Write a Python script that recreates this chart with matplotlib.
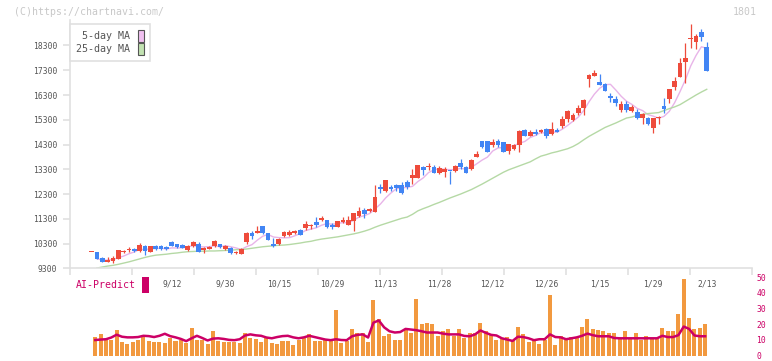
import numpy as np
import pandas as pd
import matplotlib
matplotlib.use("Agg")
import matplotlib.pyplot as plt
from matplotlib.patches import Patch, Rectangle

# daily candles, 8/22 .. 2/13 (open, high, low, close)
opens = [9940, 9950, 9730, 9570, 9600, 9690, 9950, 10020, 10070, 9980,
         10210, 9970, 10210, 10200, 10160, 10360, 10270, 10240, 10030, 10190,
         10280, 10030, 10090, 10190, 10270, 10070, 10130, 9910, 9870, 10360,
         10740, 10740, 11010, 10710, 10270, 10280, 10600, 10660, 10720, 10850,
         10940, 10990, 11180, 11250, 11250, 11060, 10970, 11160, 11060, 11220,
         11410, 11650, 11610, 11570, 12580, 12420, 12580, 12660, 12660, 12800,
         12960, 12960, 13400, 13380, 13400, 13160, 13200, 13240, 13220, 13570,
         13400, 13300, 13810, 14440, 14440, 14280, 14440, 14400, 14050, 14110,
         14280, 14890, 14660, 14790, 14820, 14940, 14730, 14890, 15050, 15340,
         15300, 15570, 15770, 16960, 17080, 16820, 16740, 16260, 16140, 15710,
         15940, 15670, 15610, 15370, 15370, 14970, 15380, 15860, 16130, 16640,
         17040, 17640, 18550, 18450, 18860, 18250]
highs = [9960, 9950, 9740, 9740, 9800, 10050, 10050, 10150, 10100, 10320,
         10260, 10200, 10260, 10230, 10200, 10400, 10300, 10270, 10230, 10410,
         10350, 10170, 10210, 10460, 10290, 10230, 10160, 10000, 10100, 10750,
         10790, 11010, 11010, 10720, 10540, 10520, 10790, 10840, 10860, 10900,
         11200, 11100, 11370, 11410, 11270, 11140, 11220, 11380, 11410, 11540,
         11760, 11730, 11720, 12660, 12710, 12880, 12660, 12700, 12780, 12870,
         13300, 13480, 13420, 13560, 13460, 13430, 13410, 13250, 13470, 13710,
         13440, 13700, 14050, 14450, 14460, 14510, 14540, 14420, 14330, 14310,
         14880, 14920, 14890, 14930, 14930, 14970, 15190, 14970, 15440, 15700,
         15560, 15900, 16130, 17130, 17300, 17140, 16770, 16390, 16260, 16050,
         16070, 15910, 15730, 15590, 15420, 15380, 15440, 16180, 16550, 17020,
         17780, 18420, 19170, 18750, 18970, 18450]
lows = [9940, 9690, 9560, 9540, 9530, 9680, 9930, 9950, 9960, 9960,
        9820, 9940, 10040, 10020, 10040, 10190, 10140, 10110, 10000, 10170,
        9950, 9920, 10060, 10170, 10130, 10040, 9890, 9880, 9860, 10280,
        10500, 10730, 10700, 10430, 10170, 10250, 10570, 10620, 10690, 10640,
        10850, 10900, 10980, 11230, 10920, 10880, 10950, 11130, 11050, 10800,
        11380, 11350, 11580, 11560, 12360, 12400, 12420, 12420, 12320, 12520,
        12710, 12950, 13070, 13270, 13130, 13100, 12990, 12700, 13170, 13300,
        13140, 13270, 13800, 14160, 14000, 14210, 14200, 14000, 13920, 14080,
        14000, 14640, 14630, 14700, 14750, 14580, 14700, 14790, 14970, 15220,
        15250, 15480, 15510, 16620, 17050, 16690, 16450, 16000, 15850, 15600,
        15620, 15600, 15330, 15140, 15090, 14770, 15140, 15570, 15980, 16500,
        17020, 16770, 18190, 18160, 18480, 17260]
closes = [9950, 9690, 9570, 9630, 9720, 10040, 10010, 10040, 9990, 10250,
          9980, 10190, 10090, 10060, 10060, 10220, 10170, 10140, 10210, 10370,
          9970, 10130, 10180, 10410, 10150, 10200, 9910, 9950, 10080, 10740,
          10600, 10820, 10740, 10440, 10220, 10480, 10770, 10780, 10820, 10650,
          11100, 11060, 11050, 11340, 10980, 10960, 11210, 11250, 11250, 11530,
          11610, 11490, 11690, 12180, 12500, 12870, 12500, 12540, 12340, 12600,
          13070, 13470, 13270, 13430, 13140, 13340, 13300, 13220, 13430, 13410,
          13160, 13680, 13920, 14180, 14010, 14410, 14290, 14010, 14310, 14280,
          14860, 14660, 14810, 14730, 14890, 14660, 14910, 14810, 15330, 15650,
          15500, 15770, 16110, 17110, 17190, 16700, 16470, 16190, 15960, 15940,
          15690, 15830, 15370, 15530, 15130, 15370, 15400, 15750, 16550, 16880,
          17590, 17780, 18560, 18680, 18630, 17280]

# 25-day moving average as drawn (from the 2nd day on)
ma25 = [9310, 9350, 9390, 9420, 9460, 9510, 9560, 9620, 9680, 9740,
        9790, 9830, 9850, 9870, 9900, 9920, 9950, 9970, 9980, 9990,
        9990, 10000, 10000, 10010, 10020, 10030, 10050, 10060, 10080, 10110,
        10140, 10170, 10190, 10210, 10230, 10240, 10260, 10290, 10320, 10360,
        10390, 10440, 10480, 10510, 10540, 10570, 10610, 10650, 10690, 10740,
        10800, 10870, 10960, 11040, 11110, 11180, 11250, 11320, 11370, 11480,
        11620, 11710, 11790, 11880, 11960, 12050, 12140, 12220, 12300, 12390,
        12480, 12590, 12700, 12820, 12940, 13060, 13180, 13280, 13360, 13440,
        13520, 13600, 13720, 13830, 13890, 13960, 14010, 14070, 14130, 14220,
        14340, 14490, 14630, 14750, 14870, 14990, 15080, 15170, 15270, 15370,
        15410, 15480, 15520, 15550, 15570, 15590, 15670, 15750, 15820, 15910,
        16040, 16170, 16300, 16420, 16530]

# AI-Predict panel (from the 2nd day on)
ai_bars = [11.6, 13.5, 9.8, 9.9, 16.0, 8.5, 7.3, 8.9, 9.8, 11.6,
           9.1, 8.5, 8.5, 7.9, 11.0, 9.1, 9.9, 7.9, 17.8, 9.8,
           9.8, 7.3, 15.4, 9.1, 8.5, 8.5, 8.5, 7.9, 14.1, 11.0,
           10.4, 8.5, 11.0, 7.9, 7.3, 9.1, 9.1, 6.7, 9.8, 11.0,
           13.5, 9.1, 9.1, 9.8, 9.8, 29.0, 7.9, 9.1, 17.2, 14.7,
           14.7, 8.5, 35.3, 23.4, 12.3, 13.5, 9.8, 9.8, 16.6, 14.1,
           35.9, 20.3, 21.0, 20.3, 12.3, 15.4, 17.2, 12.3, 17.2, 11.0,
           14.7, 14.7, 21.0, 15.4, 13.5, 9.8, 11.0, 11.6, 9.8, 18.5,
           13.5, 8.5, 9.8, 7.3, 9.8, 38.4, 6.7, 12.3, 9.8, 11.6,
           11.6, 18.5, 23.4, 17.2, 16.6, 15.4, 14.7, 14.1, 11.0, 15.4,
           11.0, 14.7, 9.8, 12.3, 11.0, 11.0, 17.8, 15.4, 15.4, 26.6,
           49.0, 24.1, 17.2, 17.8, 20.3]
ai_line = [9.9, 10.2, 10.4, 11.5, 13.3, 12.0, 11.6, 11.6, 11.8, 12.6,
           12.4, 11.8, 12.6, 13.9, 12.4, 11.6, 10.6, 9.2, 11.0, 12.6,
           11.2, 9.6, 10.8, 11.0, 10.6, 10.0, 9.8, 10.4, 12.8, 13.5,
           12.9, 12.6, 11.5, 11.0, 11.8, 12.4, 12.6, 11.6, 11.0, 11.6,
           12.6, 11.8, 11.0, 10.2, 9.8, 10.4, 9.9, 9.8, 12.3, 13.2,
           13.5, 11.5, 21.0, 22.4, 18.0, 15.5, 14.7, 15.0, 17.0, 16.6,
           16.2, 15.5, 14.7, 14.7, 14.7, 14.0, 13.5, 13.5, 13.5, 12.5,
           12.3, 13.5, 16.0, 14.5, 13.2, 12.8, 11.0, 10.2, 9.3, 12.0,
           11.8, 11.0, 9.8, 10.4, 10.4, 13.5, 11.8, 11.6, 10.4, 11.0,
           11.6, 12.6, 14.0, 13.0, 12.3, 12.3, 12.3, 11.2, 11.0, 11.0,
           11.0, 11.0, 11.0, 11.0, 11.0, 11.0, 12.6, 11.8, 11.8, 13.0,
           18.5, 17.0, 12.8, 12.3, 12.3]

date_labels = ["9/12", "9/30", "10/15", "10/29", "11/13", "11/28",
               "12/12", "12/26", "1/15", "1/29", "2/13"]
date_idx = [15, 25, 35, 45, 55, 65, 75, 85, 95, 105, 115]
price_ticks = list(range(9300, 18301, 1000))
ai_ticks = [0, 10, 20, 30, 40, 50]

RED = "#ee4b3b"
BLUE = "#4285f4"
GRID = "#e0e0e0"
TXT = "#555555"
MAG = "#cc0066"
MONO = "DejaVu Sans Mono"

df = pd.DataFrame({"o": opens, "h": highs, "l": lows, "c": closes})
n = len(df)
idx = np.arange(n)
ma5 = df["c"].iloc[1:].rolling(5, min_periods=1).mean()

W, H = 772, 361
fig = plt.figure(figsize=(W / 100, H / 100), dpi=100)
xlim = (-4.02, 123.46)

# ---- main candle chart
ax = fig.add_axes([70 / W, 1 - 268.3 / H, 682 / W, 248.3 / H])
ax.set_xlim(*xlim)
ax.set_ylim(9300, 19330)
for s in ["top", "right"]:
    ax.spines[s].set_visible(False)
for s in ["left", "bottom"]:
    ax.spines[s].set_color(GRID)
    ax.spines[s].set_linewidth(1.2)

up = df["c"] >= df["o"]
col = np.where(up, RED, BLUE)
body_lo = np.minimum(df["o"], df["c"])
body_h = np.maximum(np.abs(df["c"] - df["o"]), 45)
ax.vlines(idx, df["l"], df["h"], colors=col, lw=0.9, zorder=3)
ax.bar(idx, body_h, bottom=body_lo, width=0.88, color=col, lw=0, zorder=4)

ax.plot(idx[1:], ma5.values, color="#e8b4e8", lw=1.0, zorder=2)
ax.plot(idx[1:], ma25, color="#b5d9a5", lw=1.0, zorder=2)

ax.set_yticks(price_ticks)
ax.set_yticklabels([str(v) for v in price_ticks], fontfamily=MONO,
                   fontsize=5.8, color=TXT)
ax.set_xticks(np.linspace(xlim[0], xlim[1], 12))
ax.set_xticklabels([])
ax.tick_params(axis="both", colors=GRID, length=5, width=1.2)
ax.tick_params(axis="y", labelcolor=TXT, pad=4)

handles = [Patch(facecolor="#f0c0f0", edgecolor="#555555", lw=0.8),
           Patch(facecolor="#c2e2b2", edgecolor="#555555", lw=0.8)]
leg = ax.legend(handles, ["5-day MA", "25-day MA"], loc="upper left",
                bbox_to_anchor=(0.0, 1 - 4 / 248.3), borderaxespad=0,
                markerfirst=False, handlelength=0.55, handleheight=1.45,
                handletextpad=0.8, labelspacing=0.12, borderpad=0.6,
                fancybox=False, framealpha=1,
                prop={"family": MONO, "size": 7.2})
leg.get_frame().set_edgecolor(GRID)
leg.get_frame().set_linewidth(1.2)
for t in leg.get_texts():
    t.set_color(TXT)

# ---- AI-Predict panel
ax2 = fig.add_axes([70 / W, 1 - 355.5 / H, 682 / W, 78.2 / H])
ax2.set_xlim(*xlim)
ax2.set_ylim(0, 50)
for s in ax2.spines.values():
    s.set_visible(False)
ax2.set_xticks([])
ax2.yaxis.tick_right()
ax2.set_yticks(ai_ticks)
ax2.set_yticklabels([str(v) for v in ai_ticks], fontfamily=MONO,
                    fontsize=5.8, color=MAG)
ax2.tick_params(axis="y", length=0, pad=3)

ax2.bar(idx[1:] - 0.3, ai_bars, width=0.75, color="#f2993f", lw=0, zorder=2)
ax2.plot(idx[1:] - 0.3, ai_line, color=MAG, lw=1.8, zorder=3)

for lab, i in zip(date_labels, date_idx):
    ax2.text(i, 45.8, lab, ha="center", va="center", fontfamily=MONO,
             fontsize=5.8, color=TXT)

fig.text(76 / W, 1 - 284.5 / H, "AI-Predict", ha="left", va="center",
         fontfamily=MONO, fontsize=7.1, color=MAG)
fig.patches.append(Rectangle((142 / W, 1 - 292.7 / H), 6.5 / W, 16 / H,
                             transform=fig.transFigure, facecolor=MAG,
                             edgecolor="none"))

fig.text(14 / W, 1 - 12 / H, "(C)https://chartnavi.com/", ha="left",
         va="center", fontfamily=MONO, fontsize=7.1, color="#c8c8c8")
fig.text(757 / W, 1 - 12 / H, "1801", ha="right", va="center",
         fontfamily=MONO, fontsize=7.1, color="#c8c8c8")

fig.savefig("out.png", dpi=100)
